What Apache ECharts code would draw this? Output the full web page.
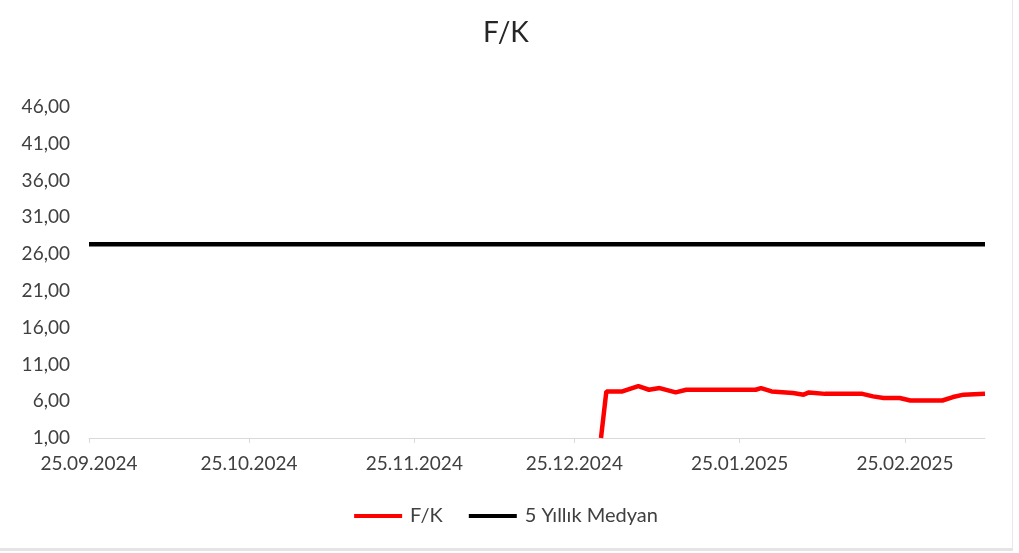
<!DOCTYPE html>
<html>
<head>
<meta charset="utf-8">
<script src="https://cdn.jsdelivr.net/npm/echarts@6/dist/echarts.min.js"></script>
<style>
  html, body { margin: 0; padding: 0; background: #fff; }
  #chart { width: 1012px; height: 548px; border-right: 1px solid #e8e8e8; border-bottom: 3px solid #e4e4e4; }
</style>
</head>
<body>
<div id="chart"></div>
<script>
// tick labels of the date axis
var dateTicks = ['25.09.2024', '25.10.2024', '25.11.2024', '25.12.2024', '25.01.2025', '25.02.2025'];
var axisStart = '25.09.2024';
var axisEnd = '12.03.2025';

// F/K
var fkDates = ['30.12.2024', '31.12.2024', '03.01.2025', '06.01.2025', '08.01.2025', '10.01.2025',
  '13.01.2025', '15.01.2025', '28.01.2025', '29.01.2025', '31.01.2025', '04.02.2025', '06.02.2025',
  '07.02.2025', '10.02.2025', '17.02.2025', '19.02.2025', '21.02.2025', '24.02.2025', '26.02.2025',
  '04.03.2025', '06.03.2025', '08.03.2025', '12.03.2025'];
var fkValues = [1.0, 7.33, 7.33, 8.05, 7.56, 7.79,
  7.2, 7.56, 7.56, 7.79, 7.33, 7.11, 6.89,
  7.2, 7.0, 7.0, 6.66, 6.44, 6.44, 6.1,
  6.1, 6.57, 6.89, 7.02];

// 5 Yıllık Medyan
var medianDates = ['25.09.2024', '12.03.2025'];
var medianValues = [27.35, 27.35];

function parseDate(s) {
  var p = s.split('.');
  return new Date(+p[2], +p[1] - 1, +p[0]).getTime();
}
function pad(n) { return n < 10 ? '0' + n : '' + n; }
function fmtDate(t) {
  var d = new Date(t);
  return pad(d.getDate()) + '.' + pad(d.getMonth() + 1) + '.' + d.getFullYear();
}
function pairs(dates, values) {
  var out = [];
  for (var i = 0; i < dates.length; i++) {
    out.push([parseDate(dates[i]), values[i]]);
  }
  return out;
}

var tickValues = dateTicks.map(parseDate);
var font = 'Lato';

var myChart = echarts.init(document.getElementById('chart'));
myChart.setOption({
  animation: false,
  title: {
    text: 'F/K',
    left: 'center',
    top: 14,
    textStyle: { fontFamily: font, fontSize: 28, fontWeight: 'normal', color: '#262626' }
  },
  legend: {
    bottom: 17,
    left: 'center',
    icon: 'rect',
    itemWidth: 48,
    itemHeight: 4,
    itemGap: 26,
    textStyle: { fontFamily: font, fontSize: 20, color: '#404040', padding: [0, 0, 0, 3] },
    data: ['F/K', '5 Yıllık Medyan']
  },
  grid: {
    left: 89,
    right: 27,
    top: 107,
    bottom: 110,
    containLabel: false
  },
  xAxis: {
    type: 'value',
    min: parseDate(axisStart),
    max: parseDate(axisEnd),
    axisLine: { lineStyle: { color: '#d9d9d9', width: 1 } },
    axisTick: { show: true, length: 5, lineStyle: { color: '#d9d9d9' }, customValues: tickValues },
    splitLine: { show: false },
    axisLabel: {
      customValues: tickValues,
      margin: 16,
      fontFamily: font,
      fontSize: 19,
      color: '#404040',
      formatter: function (v) { return fmtDate(v); }
    }
  },
  yAxis: {
    type: 'value',
    min: 1,
    max: 46,
    interval: 5,
    axisLine: { show: false },
    axisTick: { show: false },
    splitLine: { show: false },
    axisLabel: {
      margin: 19,
      fontFamily: font,
      fontSize: 19,
      color: '#404040',
      formatter: function (v) { return v.toFixed(2).replace('.', ','); }
    }
  },
  series: [
    {
      name: 'F/K',
      type: 'line',
      data: pairs(fkDates, fkValues),
      showSymbol: false,
      lineStyle: { color: '#ff0000', width: 4.5 },
      itemStyle: { color: '#ff0000' }
    },
    {
      name: '5 Yıllık Medyan',
      type: 'line',
      data: pairs(medianDates, medianValues),
      showSymbol: false,
      lineStyle: { color: '#000000', width: 4.5 },
      itemStyle: { color: '#000000' }
    }
  ]
});
</script>
</body>
</html>
